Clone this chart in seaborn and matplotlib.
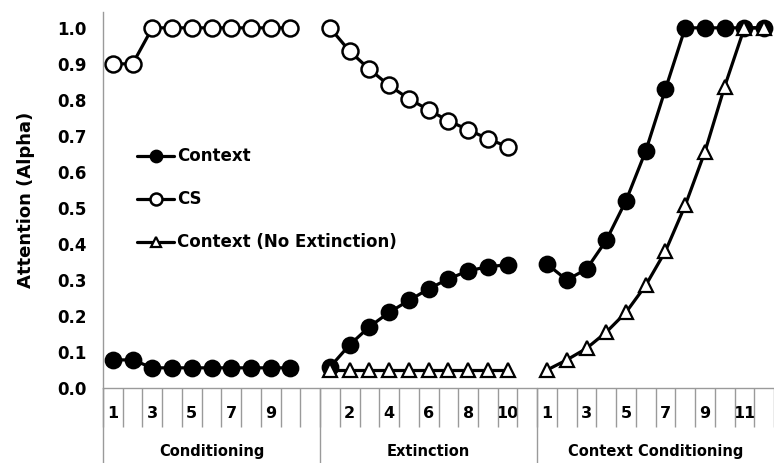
import matplotlib
matplotlib.use("Agg")
import numpy as np
import pandas as pd
import seaborn as sns
import matplotlib.pyplot as plt
from matplotlib.lines import Line2D

# fases e número de posições (slots) no eixo x
fases = ["Conditioning", "Extinction", "Context Conditioning"]
slots = [11, 11, 12]
rotulos_ensaio = [
    ["1", "", "3", "", "5", "", "7", "", "9", "", ""],
    ["", "2", "", "4", "", "6", "", "8", "", "10", ""],
    ["1", "", "3", "", "5", "", "7", "", "9", "", "11", ""],
]

# valores
cond_context = [0.078, 0.078, 0.056, 0.056, 0.056, 0.056, 0.056, 0.056, 0.056, 0.056]
cond_cs = [0.90, 0.90, 1.0, 1.0, 1.0, 1.0, 1.0, 1.0, 1.0, 1.0]
ext_context = [0.058, 0.12, 0.17, 0.21, 0.243, 0.275, 0.303, 0.325, 0.337, 0.342]
ext_cs = [1.0, 0.935, 0.885, 0.84, 0.803, 0.772, 0.742, 0.717, 0.692, 0.67]
ext_noext = [0.05, 0.05, 0.05, 0.05, 0.05, 0.05, 0.05, 0.05, 0.05, 0.05]
cc_context = [0.344, 0.30, 0.33, 0.41, 0.52, 0.658, 0.83, 1.0, 1.0, 1.0, 1.0, 1.0]
cc_noext = [0.05, 0.078, 0.11, 0.155, 0.21, 0.285, 0.38, 0.507, 0.656, 0.837, 1.0, 1.0]

series = {
    "Context": [cond_context, ext_context, cc_context],
    "CS": [cond_cs, ext_cs, None],
    "Context (No Extinction)": [None, ext_noext, cc_noext],
}

offsets = np.cumsum([0] + slots[:-1])

linhas = []
for nome, por_fase in series.items():
    for f, valores in enumerate(por_fase):
        if valores is None:
            continue
        for i, v in enumerate(valores):
            linhas.append({"serie": nome, "fase": fases[f], "pos": offsets[f] + i, "valor": v})
df = pd.DataFrame(linhas)

sns.set_style("white")
plt.rcParams["font.family"] = ["DejaVu Sans"]
plt.rcParams["font.weight"] = "bold"
plt.rcParams["text.color"] = "black"
plt.rcParams["axes.labelcolor"] = "black"
plt.rcParams["xtick.color"] = "black"
plt.rcParams["ytick.color"] = "black"

estilo = {
    "Context": dict(marker="o", markerfacecolor="black", markeredgecolor="black", markersize=11.5, markeredgewidth=1.3),
    "CS": dict(marker="o", markerfacecolor="white", markeredgecolor="black", markersize=11.5, markeredgewidth=1.8),
    "Context (No Extinction)": dict(marker="^", markerfacecolor="white", markeredgecolor="black", markersize=10, markeredgewidth=1.6),
}

fig = plt.figure(figsize=(7.74, 4.63), dpi=100)
ax = fig.add_axes([103 / 774, 75 / 463, 671 / 774, 376 / 463])

for nome in series:
    for fase in fases:
        sub = df[(df["serie"] == nome) & (df["fase"] == fase)]
        if sub.empty:
            continue
        sns.lineplot(data=sub, x="pos", y="valor", ax=ax, color="black", linewidth=2.3,
                     legend=False, clip_on=False, **estilo[nome])

total = sum(slots)
ax.set_xlim(-0.5, total - 0.5)
ax.set_ylim(0, 1.044)
ax.set_yticks(np.arange(0, 1.01, 0.1))
ax.set_yticklabels([f"{v:.1f}" for v in np.arange(0, 1.01, 0.1)], fontsize=12, fontweight="bold")
ax.set_ylabel("Attention (Alpha)", fontsize=13, fontweight="bold", labelpad=16)
ax.set_xlabel("")

cinza = "#9a9a9a"
for s in ["top", "right"]:
    ax.spines[s].set_visible(False)
for s in ["left", "bottom"]:
    ax.spines[s].set_color(cinza)
    ax.spines[s].set_linewidth(1)

# rótulos dos ensaios (centro de cada slot)
centros = np.arange(total)
ax.set_xticks(centros)
ax.set_xticklabels([r for grupo in rotulos_ensaio for r in grupo], fontsize=11.5, fontweight="bold")
ax.tick_params(axis="x", length=0, pad=13)
ax.tick_params(axis="y", length=4, width=1, color=cinza, direction="out", pad=8)

# marcas entre categorias
ax.vlines(np.arange(-0.5, total, 1.0), -0.104, 0, transform=ax.get_xaxis_transform(),
          color=cinza, linewidth=1, clip_on=False)

# separadores e nomes das fases
for f, fase in enumerate(fases):
    ax.axvline(offsets[f] - 0.5, ymin=-0.2, ymax=0, color=cinza, linewidth=1, clip_on=False)
    ax.text(offsets[f] + (slots[f] - 1) / 2, -0.168, fase, transform=ax.get_xaxis_transform(),
            ha="center", va="center", fontsize=10.5, fontweight="bold")

handles = [Line2D([], [], color="black", linewidth=2.3, **{k: v for k, v in estilo[n].items()})
           for n in series]
for h in handles:
    h.set_markersize(h.get_markersize() * 0.75)
ax.legend(handles, list(series.keys()), loc="upper left", bbox_to_anchor=(0.051, 0.64),
          frameon=False, borderaxespad=0, borderpad=0, handlelength=2.2, handletextpad=0.2,
          labelspacing=1.5, prop={"size": 12, "weight": "bold"})

fig.savefig("out.png", dpi=100)
